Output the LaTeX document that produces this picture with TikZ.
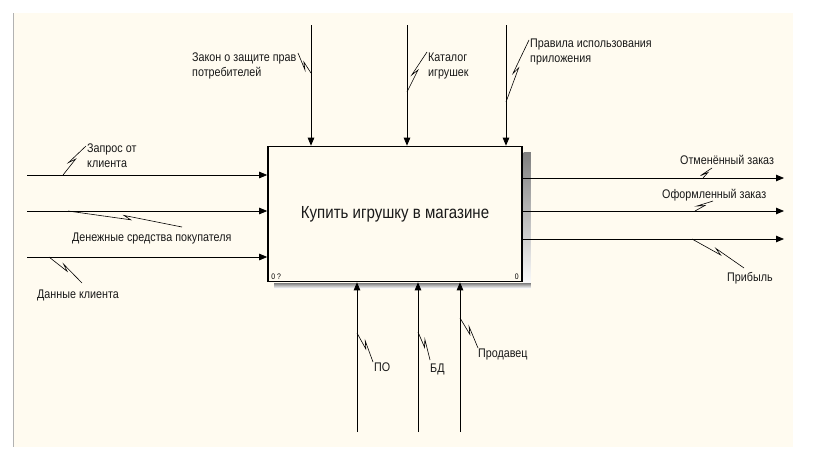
\documentclass[tikz,border=0pt]{standalone}
\usepackage{fontspec}
\setmainfont{Liberation Sans}
\newfontfamily\idefont[FakeStretch=0.86]{Liberation Sans}
\usetikzlibrary{arrows.meta,positioning,calc}
\definecolor{paper}{RGB}{255,251,240}
\definecolor{shade}{RGB}{178,178,178}
\definecolor{inkgray}{RGB}{25,25,25}
% IDEF0 label squiggle: fixed-size jag past the middle
\newcommand{\squig}[2]{\draw[squigline] (#1) -- ($(#1)!.55!(#2)$) -- ($(#1)!.55!(#2)!8pt!155:(#2)$) -- (#2);}

\begin{document}
\begin{tikzpicture}[x=1pt,y=-1pt,
    flow/.style={-{Triangle[length=8pt,width=6.5pt]},line width=0.8pt},
    squigline/.style={line width=0.6pt},
    lbl/.style={font=\idefont\fontsize{12.5}{15}\selectfont,text=inkgray,inner sep=0pt,align=left,anchor=base west}]
  \useasboundingbox (0,0) rectangle (819,471);
  \fill[paper] (13,13) rectangle (793,447);
  \draw[gray!60,line width=1pt] (13,13) -- (13,447);

  % activity box
  \node[draw,line width=1.6pt,fill=paper,minimum width=254pt,minimum height=135pt,
        font=\idefont\fontsize{17.5}{20}\selectfont,text=inkgray] (box) at (395,214) {Купить игрушку в магазине};
  \fill[shade] ($(box.north east)+(0.8,7)$) rectangle ($(box.south east)+(8,6)$);
  \fill[shade] ($(box.south west)+(7,0.8)$) rectangle ($(box.south east)+(8,6)$);
  \node[font=\idefont\fontsize{8}{9}\selectfont,anchor=south west,inner sep=1pt] (boxid) at ($(box.south west)+(3,-2)$) {0 ?};
  \node[font=\idefont\fontsize{8}{9}\selectfont,anchor=south east,inner sep=1pt] (boxno) at ($(box.south east)+(-3,-2)$) {0};

  % inputs
  \coordinate (i1) at (27,175);
  \coordinate (i2) at (27,211);
  \coordinate (i3) at (27,257);
  \foreach \p in {i1,i2,i3}
    \draw[flow] (\p) -- (\p -| box.west);

  % outputs
  \coordinate (o1) at (784,178);
  \coordinate (o2) at (784,211);
  \coordinate (o3) at (784,239);
  \foreach \p in {o1,o2,o3}
    \draw[flow] (\p -| box.east) -- (\p);

  % controls
  \coordinate (c1) at (311,25);
  \coordinate (c2) at (407,25);
  \coordinate (c3) at (506,25);
  \foreach \p in {c1,c2,c3}
    \draw[flow] (\p) -- (\p |- box.north);

  % mechanisms
  \coordinate (m1) at (357,432);
  \coordinate (m2) at (418,432);
  \coordinate (m3) at (460,432);
  \foreach \p in {m1,m2,m3}
    \draw[flow] (\p) -- (\p |- box.south);

  % labels (two-line labels sit on the baseline of their last line)
  \node[lbl] (lzap) at (87,167) {Запрос от\\клиента};
  \node[lbl] (lden) at (72,241) {Денежные средства покупателя};
  \node[lbl] (ldan) at (37,298) {Данные клиента};
  \node[lbl] (lzak) at (192,76) {Закон о защите прав\\потребителей};
  \node[lbl] (lkat) at (428,76) {Каталог\\игрушек};
  \node[lbl] (lpra) at (530,62) {Правила использования\\приложения};
  \node[lbl] (lotm) at (680,164) {Отменённый заказ};
  \node[lbl] (lofo) at (662,198) {Оформленный заказ};
  \node[lbl] (lpri) at (727,281) {Прибыль};
  \node[lbl] (lpo) at (374,371) {ПО};
  \node[lbl] (lbd) at (430,372) {БД};
  \node[lbl] (lpro) at (478,357) {Продавец};

  % squiggles from arrows to labels
  \coordinate (zapA) at (63,175);  \coordinate (zapB) at (86,146);
  \coordinate (denA) at (68,211);  \coordinate (denB) at (182,227);
  \coordinate (danA) at (49,257);  \coordinate (danB) at (82,283);
  \coordinate (zakA) at (311,73);  \coordinate (zakB) at (298,53);
  \coordinate (katA) at (407,92);  \coordinate (katB) at (427,52);
  \coordinate (praA) at (506,102); \coordinate (praB) at (529,40);
  \coordinate (otmA) at (703,178); \coordinate (otmB) at (712,168);
  \coordinate (ofoA) at (695,211); \coordinate (ofoB) at (713,201);
  \coordinate (priA) at (692,239); \coordinate (priB) at (744,268);
  \coordinate (poA) at (357,333);  \coordinate (poB) at (373,362);
  \coordinate (bdA) at (418,332);  \coordinate (bdB) at (430,360);
  \coordinate (proA) at (460,318); \coordinate (proB) at (478,348);
  \foreach \s in {zap,den,dan,zak,kat,pra,otm,ofo,pri,po,bd,pro}
    {\squig{\s A}{\s B}}
\end{tikzpicture}
\end{document}
